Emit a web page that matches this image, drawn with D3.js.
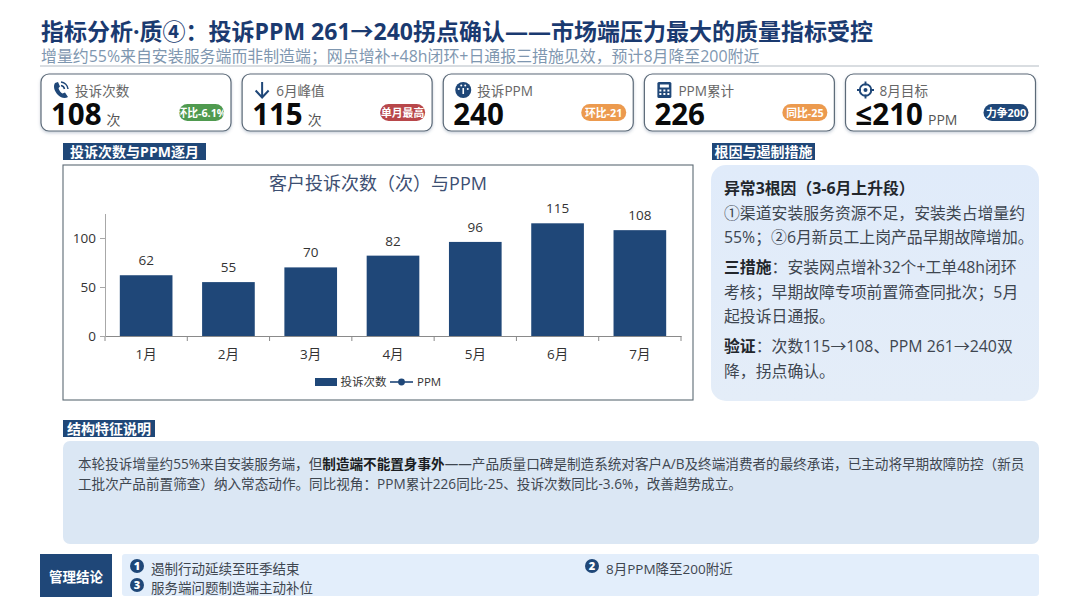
<!DOCTYPE html>
<html><head><meta charset="utf-8">
<script src="https://cdn.jsdelivr.net/npm/d3@7/dist/d3.min.js"></script>
<style>
html,body{margin:0;padding:0;background:#fff}
svg{display:block}
text{font-family:"Open Sans","Noto Sans CJK SC",sans-serif}
</style></head><body>
<svg id="c" width="1080" height="608"></svg>
<script>
const months=["1月","2月","3月","4月","5月","6月","7月"];
const complaints=[62,55,70,82,96,115,108];
const yTicks=[0,50,100];
const legendLabels=["投诉次数","PPM"];
const chartTitle="客户投诉次数（次）与PPM";
const titleText="指标分析·质④：投诉PPM 261→240拐点确认——市场端压力最大的质量指标受控";
const subtitleText="增量约55%来自安装服务端而非制造端；网点增补+48h闭环+日通报三措施见效，预计8月降至200附近";
const cardLabels=["投诉次数","6月峰值","投诉PPM","PPM累计","8月目标"];
const cardValues=["108","115","240","226","≤210"];
const cardUnits=["次","次","","","PPM"];
const cardPills=["环比-6.1%","单月最高","环比-21","同比-25","力争200"];
const pillColors=["#4f9a4f","#b8474a","#ec9a4e","#ec9a4e","#1f4778"];
const sectionLabels=["投诉次数与PPM逐月","根因与遏制措施","结构特征说明"];
const rootLines=[
 [["异常3根因（3-6月上升段）",1]],
 [["①渠道安装服务资源不足，安装类占增量约",0]],
 [["55%；②6月新员工上岗产品早期故障增加。",0]],
 [["三措施",1],["：安装网点增补32个+工单48h闭环",0]],
 [["考核；早期故障专项前置筛查同批次；5月",0]],
 [["起投诉日通报。",0]],
 [["验证",1],["：次数115→108、PPM 261→240双",0]],
 [["降，拐点确认。",0]]];
const structLines=[
 [["本轮投诉增量约55%来自安装服务端，但",0],["制造端不能置身事外",1],["——产品质量口碑是制造系统对客户A/B及终端消费者的最终承诺，已主动将早期故障防控（新员",0]],
 [["工批次产品前置筛查）纳入常态动作。同比视角：PPM累计226同比-25、投诉次数同比-3.6%，改善趋势成立。",0]]];
const conclusionTitle="管理结论";
const conclusions=["遏制行动延续至旺季结束","8月PPM降至200附近","服务端问题制造端主动补位"];

const NAVY="#1f4778";
const svg=d3.select("#c");
const defs=svg.append("defs");
const sh=defs.append("filter").attr("id","sh").attr("x","-5%").attr("y","-10%").attr("width","110%").attr("height","130%");
sh.append("feDropShadow").attr("dx",0).attr("dy",1.5).attr("stdDeviation",1.5).attr("flood-color","#5a6f8c").attr("flood-opacity",.35);
const g1=defs.append("linearGradient").attr("id","panel").attr("x1",0).attr("y1",0).attr("x2",0).attr("y2",1);
g1.append("stop").attr("offset",0).attr("stop-color","#e0ebfa");
g1.append("stop").attr("offset",1).attr("stop-color","#e4edf8");

function rich(sel,parts,boldColor){
  parts.forEach(([t,b])=>{
    const s=sel.append("tspan").text(t);
    if(b){s.attr("font-weight",700);if(boldColor)s.attr("fill",boldColor);}
  });
}

// Header
svg.append("text").attr("x",41).attr("y",40).attr("font-size",23).attr("font-weight",700).attr("fill","#1a3a70").text(titleText);
svg.append("text").attr("x",41).attr("y",62).attr("font-size",15.92).attr("fill","#7f97b0").text(subtitleText);
svg.append("line").attr("x1",40).attr("x2",1039).attr("y1",66).attr("y2",66).attr("stroke","#b4bcc4").attr("stroke-width",1.2);

// KPI cards
const cardX=d3.scaleLinear().domain([0,4]).range([41,845.5]);
const cardW=190,cardH=57,cardTop=74;
const icons=[
 g=>{
   g.append("path").attr("d","M-6,-7 C-8,-4 -7,1 -3,5 C0,8 4,9 7,7 L4,2.5 L1.5,3.5 C0,3 -2,0.5 -2.5,-2 L-1,-3.5 L-3,-8 Z").attr("fill",NAVY);
   g.append("path").attr("d","M0,-8 A8,8 0 0 1 7,-1 M0,-4.5 A4.5,4.5 0 0 1 3.5,-1").attr("fill","none").attr("stroke",NAVY).attr("stroke-width",1.5);
 },
 g=>{
   g.append("path").attr("d","M0,-8 V7 M-6.5,0.5 L0,7.5 L6.5,0.5").attr("fill","none").attr("stroke",NAVY).attr("stroke-width",2);
 },
 g=>{
   g.append("circle").attr("r",8).attr("fill",NAVY);
   [[-4.5,-1],[-2,-4.5],[2,-4.5],[4.5,-1]].forEach(p=>g.append("circle").attr("cx",p[0]).attr("cy",p[1]).attr("r",1).attr("fill","#fff"));
   g.append("path").attr("d","M0,4 L0,-2").attr("stroke","#fff").attr("stroke-width",1.6);
 },
 g=>{
   g.append("rect").attr("x",-7).attr("y",-8).attr("width",14).attr("height",16).attr("rx",1.5).attr("fill",NAVY);
   g.append("rect").attr("x",-4.5).attr("y",-5.5).attr("width",9).attr("height",3).attr("fill","#fff");
   [-4,0,4].forEach(x=>[0.5,4].forEach(y=>g.append("rect").attr("x",x-1).attr("y",y-1).attr("width",2).attr("height",2).attr("fill","#fff")));
 },
 g=>{
   g.append("circle").attr("r",5.8).attr("fill","none").attr("stroke",NAVY).attr("stroke-width",1.9);
   g.append("circle").attr("r",2).attr("fill",NAVY);
   g.append("path").attr("d","M0,-8.5 V-4.5 M0,4.5 V8.5 M-8.5,0 H-4.5 M4.5,0 H8.5").attr("stroke",NAVY).attr("stroke-width",1.9);
 }];
const cards=svg.selectAll("g.card").data(cardLabels).join("g").attr("class","card")
  .attr("transform",(d,i)=>`translate(${cardX(i)},${cardTop})`);
cards.append("rect").attr("width",cardW).attr("height",cardH).attr("rx",8).attr("fill","#fff")
  .attr("stroke","#5c6a78").attr("stroke-width",1.2).attr("filter","url(#sh)");
cards.each(function(d,i){ icons[i](d3.select(this).append("g").attr("transform","translate(20,16)")); });
cards.append("text").attr("x",34).attr("y",21.5).attr("font-size",13.6).attr("fill","#666").text(d=>d);
cards.each(function(d,i){
  const t=d3.select(this).append("text").attr("x",10).attr("y",51);
  t.append("tspan").attr("font-size",29.5).attr("font-weight",700).attr("fill","#0a0a0a").text(cardValues[i]);
  t.append("tspan").attr("font-size",14).attr("fill","#555").attr("dx",5).text(cardUnits[i]);
  const clipId="pc"+i;
  const px=cardW-52,py=30,pw=45,ph=17;
  defs.append("clipPath").attr("id",clipId).append("rect").attr("x",px).attr("y",py).attr("width",pw).attr("height",ph).attr("rx",8.5);
  d3.select(this).append("rect").attr("x",px).attr("y",py).attr("width",pw).attr("height",ph).attr("rx",8.5).attr("fill",pillColors[i]);
  d3.select(this).append("g").attr("clip-path",`url(#${clipId})`).append("text")
    .attr("x",px+pw/2).attr("y",py+12.6).attr("text-anchor","middle").attr("font-size",10.8).attr("font-weight",700)
    .attr("fill","#fff").text(cardPills[i]);
});

// Section labels
const sectionBoxes=[[63,143,143],[712,143,103],[63,420,92]];
sectionLabels.forEach((t,i)=>{
  const [x,y,w]=sectionBoxes[i];
  svg.append("rect").attr("x",x).attr("y",y).attr("width",w).attr("height",17).attr("fill",NAVY);
  svg.append("text").attr("x",x+w/2).attr("y",y+13.5).attr("text-anchor","middle").attr("font-size",14).attr("font-weight",700).attr("fill","#fff").text(t);
});

// Chart
svg.append("rect").attr("x",63).attr("y",165).attr("width",630).attr("height",235).attr("fill","#fff").attr("stroke","#5c6a74").attr("stroke-width",1.1);
svg.append("text").attr("x",378).attr("y",190).attr("text-anchor","middle").attr("font-size",18).attr("fill","#3d4f72").text(chartTitle);
const x=d3.scaleBand().domain(months).range([105,681]).paddingInner(.36).paddingOuter(.18);
const y=d3.scaleLinear().domain([0,125]).range([336,213.5]);
const plot=svg.append("g");
plot.selectAll("rect.bar").data(complaints).join("rect").attr("class","bar")
  .attr("x",(d,i)=>x(months[i])).attr("width",x.bandwidth())
  .attr("y",d=>y(d)).attr("height",d=>y(0)-y(d)).attr("fill",NAVY);
plot.selectAll("text.val").data(complaints).join("text").attr("class","val")
  .attr("x",(d,i)=>x(months[i])+x.bandwidth()/2).attr("y",d=>y(d)-10)
  .attr("text-anchor","middle").attr("font-size",13.5).attr("fill","#333").text(d=>d);
const xAxis=d3.axisBottom(d3.scaleBand().domain(months).range([105,681])).tickSize(0).tickPadding(13);
const xg=svg.append("g").attr("transform","translate(0,336)").call(xAxis);
xg.selectAll("path").attr("stroke","#8a8a8a");
xg.selectAll("text").attr("font-size",13.5).attr("fill","#333");
const step=(681-105)/months.length;
xg.selectAll("line.t").data(d3.range(months.length+1)).join("line").attr("class","t")
  .attr("x1",d=>105+d*step).attr("x2",d=>105+d*step).attr("y1",0).attr("y2",5).attr("stroke","#8a8a8a");
const yAxis=d3.axisLeft(y).tickValues(yTicks).tickSize(5).tickPadding(4).tickSizeOuter(0);
const yg=svg.append("g").attr("transform","translate(105,0)").call(yAxis);
yg.selectAll("path,line").attr("stroke","#a8a8a8");
yg.selectAll("text").attr("font-size",13.5).attr("fill","#333");

// Legend
const leg=svg.append("g").attr("transform","translate(315,382)");
leg.append("rect").attr("x",0).attr("y",-4).attr("width",22).attr("height",8).attr("fill",NAVY);
leg.append("text").attr("x",25.5).attr("y",4.2).attr("font-size",11.5).attr("fill","#333").text(legendLabels[0]);
leg.append("line").attr("x1",75).attr("x2",98).attr("y1",0).attr("y2",0).attr("stroke",NAVY).attr("stroke-width",1.6);
leg.append("circle").attr("cx",86.5).attr("cy",0).attr("r",3.4).attr("fill",NAVY);
leg.append("text").attr("x",102).attr("y",4.2).attr("font-size",11.5).attr("fill","#333").text(legendLabels[1]);

// Root cause panel
svg.append("rect").attr("x",711).attr("y",165).attr("width",328).attr("height",236).attr("rx",15).attr("fill","url(#panel)");
const rootY=[193.5,218.5,242.5,272.5,297.5,321.5,351.5,376.5];
rootLines.forEach((parts,i)=>{
  const t=svg.append("text").attr("x",724).attr("y",rootY[i]).attr("font-size",15.85).attr("fill","#3e4650");
  rich(t,parts,"#22262c");
});

// Structure panel
svg.append("rect").attr("x",63).attr("y",441).attr("width",976).attr("height",103).attr("rx",7).attr("fill","#dbe7f4");
[468.5,489].forEach((yy,i)=>{
  const t=svg.append("text").attr("x",78).attr("y",yy).attr("font-size",13.6).attr("fill","#3e4650");
  rich(t,structLines[i],"#1a1d22");
});

// Conclusion
svg.append("rect").attr("x",40).attr("y",554).attr("width",72).attr("height",43).attr("fill",NAVY);
svg.append("text").attr("x",76).attr("y",582).attr("text-anchor","middle").attr("font-size",13.5).attr("font-weight",700).attr("fill","#fff").text(conclusionTitle);
svg.append("rect").attr("x",122).attr("y",554).attr("width",917).attr("height",42).attr("rx",3).attr("fill","#e3eefb");
const concPos=[[137,566],[592,566],[137,585]];
conclusions.forEach((t,i)=>{
  const [cx,cy]=concPos[i];
  svg.append("circle").attr("cx",cx).attr("cy",cy).attr("r",7).attr("fill",NAVY);
  svg.append("text").attr("x",cx).attr("y",cy+4).attr("text-anchor","middle").attr("font-size",11).attr("font-weight",800).attr("fill","#fff").text(i+1);
  svg.append("text").attr("x",cx+14).attr("y",cy+8).attr("font-size",13.5).attr("fill","#3e4650").text(t);
});
</script></body></html>
